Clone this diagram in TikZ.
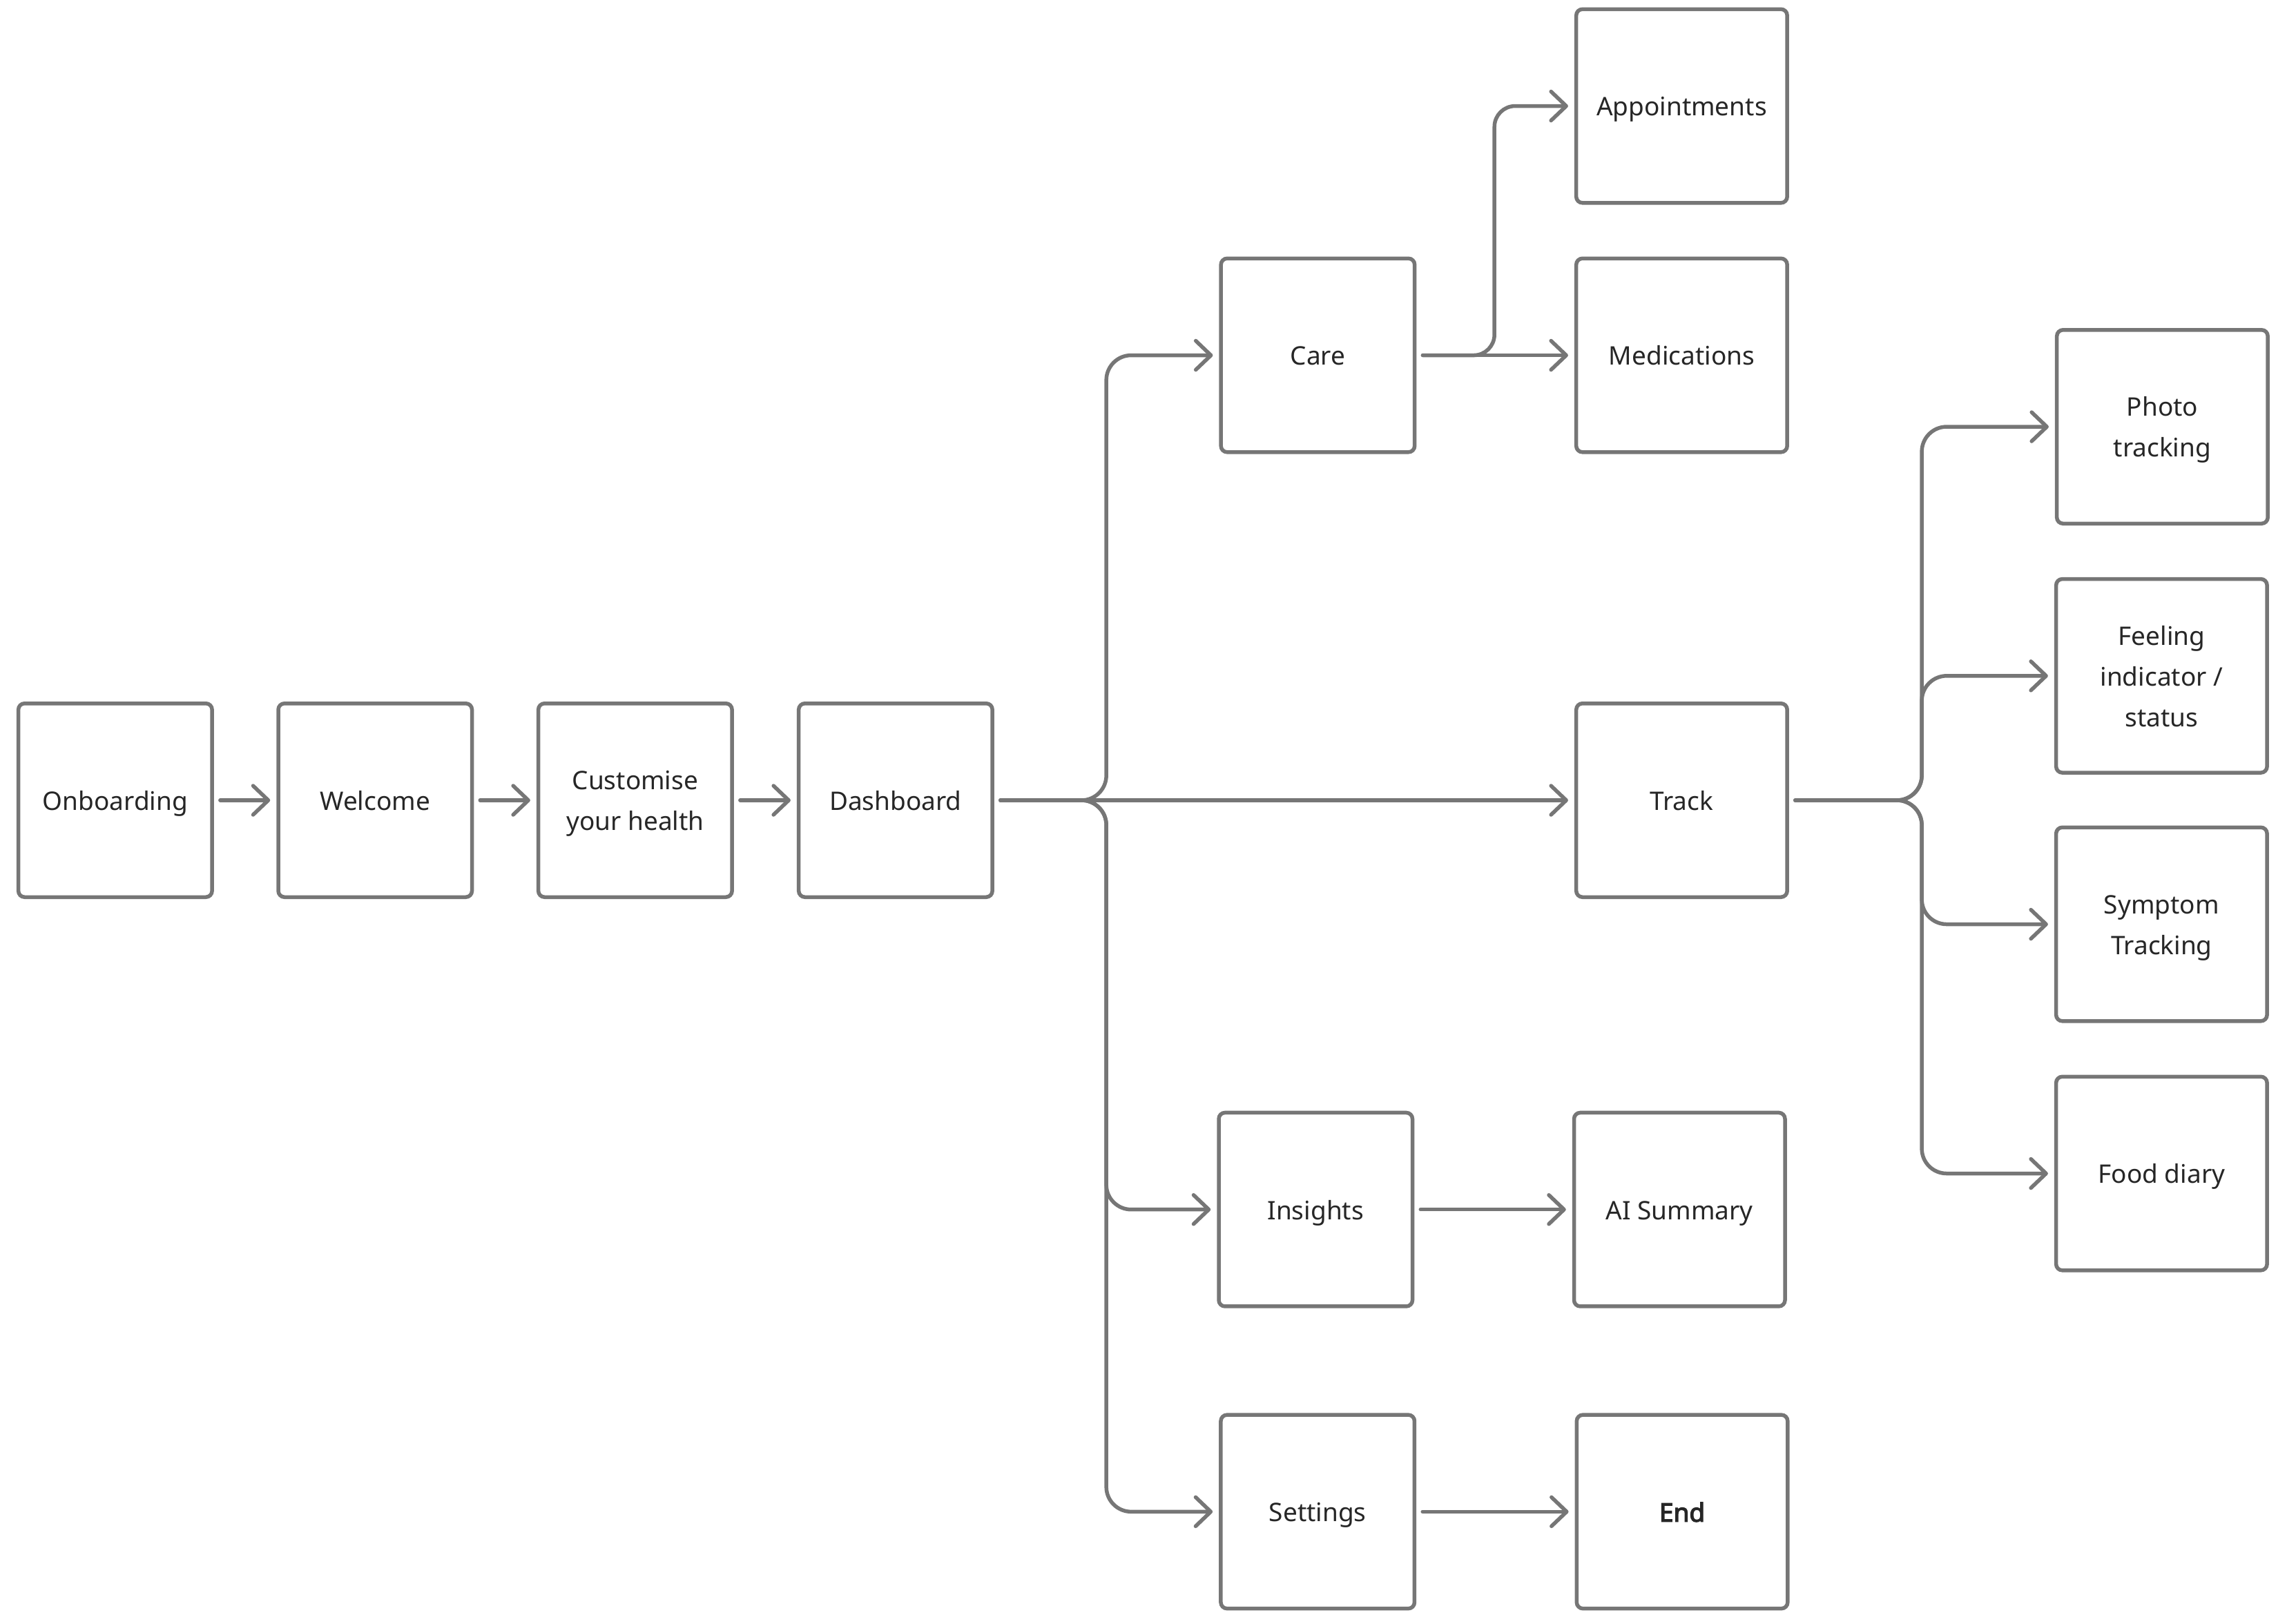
\documentclass[tikz,border=0pt]{standalone}
\usepackage{fontspec}
\setmainfont{Noto Sans}
\newfontfamily\endfont{Noto Sans}[FakeBold=3.5]
\usetikzlibrary{arrows.meta}
\definecolor{edgegray}{HTML}{767676}
\definecolor{ink}{HTML}{262626}
\newcommand{\firstline}{\rule{0pt}{40pt}}
\begin{document}
\begin{tikzpicture}[x=2.11224pt, y=-2.11224pt,
  box/.style={draw=edgegray, line width=5.5pt, rounded corners=9pt, minimum width=280.5pt, minimum height=280.5pt, align=center, text=ink, font=\fontsize{37}{59}\selectfont, inner sep=0pt,
    execute at begin node={\firstline}, execute at end node={\rule[-11.2pt]{0pt}{0pt}}},
  wbox/.style={box, minimum width=305.5pt},
  conn/.style={draw=edgegray, line width=5.5pt, line cap=round, line join=round, -{Straight Barb[length=22pt,width=42pt,round]}, shorten <=9pt, shorten >=9pt},
]
\useasboundingbox (0,0) rectangle (1568,1113.5);
\node[box] (onb) at (79,548.7) {Onboarding};
\node[box] (wel) at (257.2,548.7) {Welcome};
\node[box] (cus) at (435.5,548.7) {\firstline Customise\\your health};
\node[box] (dash) at (614,548.7) {Dashboard};
\node[box] (care) at (903.5,243.6) {Care};
\node[wbox] (appt) at (1153,72.7) {Appointments};
\node[wbox] (med) at (1153,243.6) {Medications};
\node[wbox] (track) at (1153,548.7) {Track};
\node[wbox] (photo) at (1482.5,292.6) {\firstline Photo\\tracking};
\node[wbox] (feel) at (1482,463.4) {\firstline Feeling\\indicator /\\status};
\node[wbox] (symp) at (1482,633.7) {\firstline Symptom\\Tracking};
\node[wbox] (food) at (1482,804.6) {Food diary};
\node[box] (ins) at (902,829.3) {Insights};
\node[wbox] (ai) at (1151.5,829.3) {AI Summary};
\node[box] (set) at (903.4,1036.5) {Settings};
\node[wbox] (end) at (1153.3,1036.5) {{\endfont End}};

\coordinate (dfan) at (758.5,548.7);
\coordinate (cfan) at (1024.6,243.6);
\coordinate (tfan) at (1317.6,548.7);

\draw[conn] (onb) -- (wel);
\draw[conn] (wel) -- (cus);
\draw[conn] (cus) -- (dash);
\draw[conn] (dash.east) -- (track.west);
\draw[conn, rounded corners=36pt] (dash.east) -- (dfan) |- (care.west);
\draw[conn, rounded corners=36pt] (dash.east) -- (dfan) |- (ins.west);
\draw[conn, rounded corners=36pt] (dash.east) -- (dfan) |- (set.west);
\draw[conn] (care.east) -- (med.west);
\draw[conn, rounded corners=30pt] (care.east) -- (cfan) |- (appt.west);
\draw[conn, rounded corners=36pt] (track.east) -- (tfan) |- (photo.west);
\draw[conn, rounded corners=36pt] (track.east) -- (tfan) |- (feel.west);
\draw[conn, rounded corners=36pt] (track.east) -- (tfan) |- (symp.west);
\draw[conn, rounded corners=36pt] (track.east) -- (tfan) |- (food.west);
\draw[conn] (ins.east) -- (ai.west);
\draw[conn] (set.east) -- (end.west);
\end{tikzpicture}
\end{document}
